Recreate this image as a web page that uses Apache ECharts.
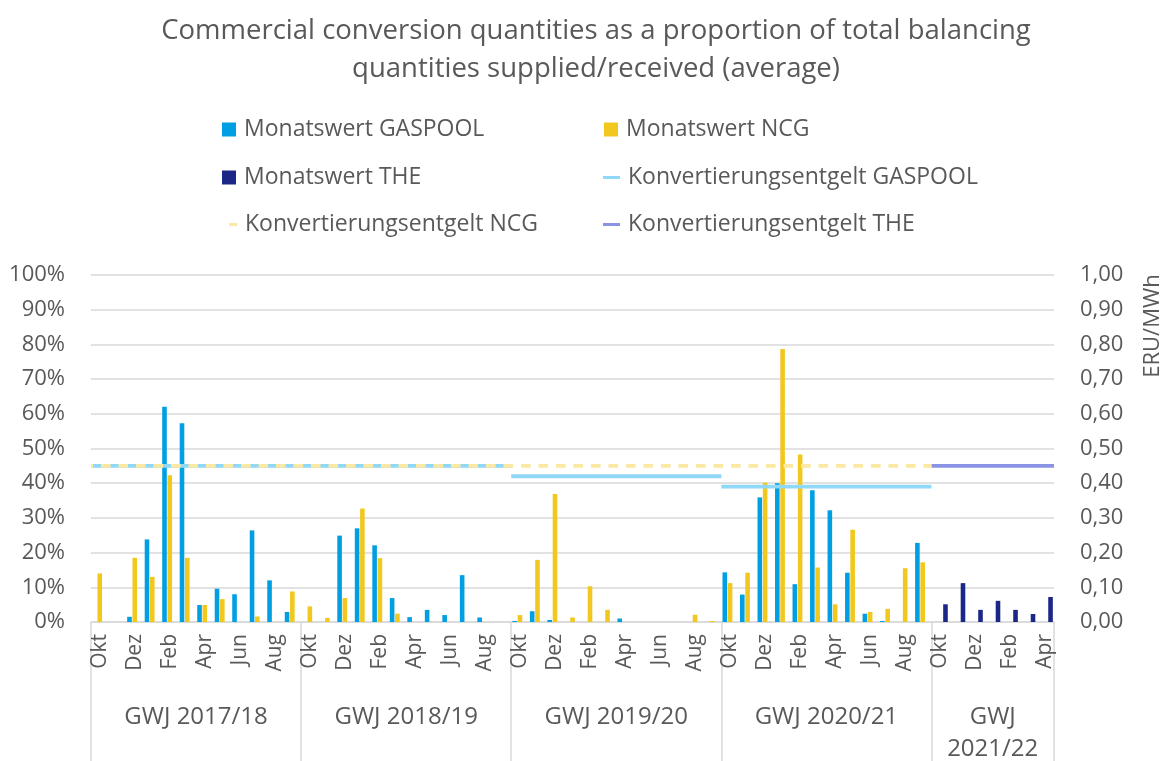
<!DOCTYPE html>
<html>
<head>
<meta charset="utf-8">
<script src="https://cdn.jsdelivr.net/npm/echarts@6/dist/echarts.min.js"></script>
<style>
  html, body { margin: 0; padding: 0; background: #fff; }
  #chart { width: 1167px; height: 761px; }
</style>
</head>
<body>
<div id="chart"></div>
<script>
// Gaswirtschaftsjahre und Monate
const years = ['GWJ 2017/18', 'GWJ 2018/19', 'GWJ 2019/20', 'GWJ 2020/21', 'GWJ\n2021/22'];
const monthNames = ['Okt', 'Nov', 'Dez', 'Jan', 'Feb', 'Mär', 'Apr', 'Mai', 'Jun', 'Jul', 'Aug', 'Sep'];
const monthsPerYear = [12, 12, 12, 12, 7];

// Monatswerte in % (Okt 2017 .. Apr 2022)
const gaspool = [
  0, 0, 1.5, 23.8, 62.0, 57.3, 4.9, 9.6, 8.0, 26.4, 12.0, 2.9,
  0, 0, 24.9, 27.0, 22.1, 6.9, 1.4, 3.5, 2.0, 13.5, 1.3, 0,
  0.3, 3.1, 0.6, 0, 0, 0, 1.0, 0, 0, 0, 0, 0,
  14.3, 7.9, 35.9, 40.0, 10.9, 38.0, 32.2, 14.2, 2.4, 0.3, 0, 22.8,
  null, null, null, null, null, null, null
];
const ncg = [
  14.0, 0, 18.5, 13.0, 42.3, 18.5, 4.9, 6.6, 0, 1.6, 0, 8.8,
  4.5, 1.2, 6.9, 32.7, 18.4, 2.4, 0, 0, 0, 0, 0, 0,
  2.0, 17.9, 36.9, 1.3, 10.3, 3.5, 0, 0, 0, 0, 2.1, 0.3,
  11.2, 14.2, 40.2, 78.7, 48.3, 15.7, 5.1, 26.6, 2.9, 3.8, 15.5, 17.2,
  null, null, null, null, null, null, null
];
const the = [
  null, null, null, null, null, null, null, null, null, null, null, null,
  null, null, null, null, null, null, null, null, null, null, null, null,
  null, null, null, null, null, null, null, null, null, null, null, null,
  null, null, null, null, null, null, null, null, null, null, null, null,
  5.1, 11.2, 3.5, 6.1, 3.5, 2.3, 7.2
];

// Konvertierungsentgelt je GWJ (ERU/MWh)
const feeGaspool = [0.45, 0.45, 0.42, 0.39, null];
const feeNcg = [0.45, 0.45, 0.45, 0.45, null];
const feeThe = [null, null, null, null, 0.45];

const font = 'Open Sans';
const textColor = '#595959';
const gridColor = '#D9D9D9';

// Kategorien aus Jahren und Monaten
const categories = [];
const bounds = [0];
const mids = [];
monthsPerYear.forEach((n, i) => {
  for (let m = 0; m < n; m++) categories.push(monthNames[m]);
  const start = bounds[bounds.length - 1];
  mids.push(start + n / 2);
  bounds.push(start + n);
});
const totalMonths = bounds[bounds.length - 1];

// Entgelt als Stufen über die ganze Jahresbreite
function feeLine(fees) {
  const pts = [];
  fees.forEach((f, i) => {
    if (f == null) return;
    const s = bounds[i], e = bounds[i + 1];
    if (pts.length && pts[pts.length - 1][1] !== f) pts.push([s, '-']);
    pts.push([s, f], [e, f]);
  });
  return pts;
}

const legendText = { fontFamily: font, fontSize: 23, color: textColor, padding: [0, 0, 0, 3] };
function legendItem(name, left, top, w, h) {
  return { data: [name], left: left, top: top, padding: 0, itemWidth: w, itemHeight: h, icon: 'rect',
           selectedMode: false, textStyle: legendText };
}

const chart = echarts.init(document.getElementById('chart'));
chart.setOption({
  animation: false,
  title: {
    text: 'Commercial conversion quantities as a proportion of total balancing\nquantities supplied/received (average)',
    left: 591, top: 7, textAlign: 'center',
    textStyle: { fontFamily: font, fontSize: 27.5, fontWeight: 'normal', color: textColor, lineHeight: 38 }
  },
  legend: [
    legendItem('Monatswert GASPOOL', 222, 118, 14, 14),
    legendItem('Monatswert NCG', 604, 118, 14, 14),
    legendItem('Monatswert THE', 222, 166, 14, 14),
    legendItem('Konvertierungsentgelt GASPOOL', 603, 166, 17, 3),
    legendItem('Konvertierungsentgelt NCG', 229, 213, 8, 3),
    legendItem('Konvertierungsentgelt THE', 603, 213, 17, 3)
  ],
  grid: { left: 91, right: 113, top: 275, bottom: 139, outerBoundsMode: 'none' },
  xAxis: [
    {
      type: 'category', data: categories, position: 'bottom',
      axisLine: { lineStyle: { color: gridColor, width: 1.5 } },
      axisTick: { show: false },
      axisLabel: { interval: 1, rotate: 90, margin: 12, fontFamily: font, fontSize: 21, color: textColor }
    },
    {
      type: 'value', min: 0, max: totalMonths, position: 'bottom',
      axisLine: { show: false },
      splitLine: { show: false },
      axisTick: { show: true, customValues: bounds, length: 139, lineStyle: { color: gridColor, width: 1.5 } },
      axisLabel: {
        customValues: mids, margin: 79, fontFamily: font, fontSize: 24, color: textColor, lineHeight: 32,
        formatter: v => years[mids.indexOf(v)]
      }
    }
  ],
  yAxis: [
    {
      type: 'value', min: 0, max: 100, interval: 10,
      axisLine: { show: false }, axisTick: { show: false },
      axisLabel: { formatter: '{value}%', margin: 26, fontFamily: font, fontSize: 22, color: textColor },
      splitLine: { lineStyle: { color: gridColor, width: 1.5 } }
    },
    {
      type: 'value', min: 0, max: 1, interval: 0.1, position: 'right',
      axisLine: { show: false }, axisTick: { show: false },
      axisLabel: { formatter: v => v.toFixed(2).replace('.', ','), margin: 26, fontFamily: font, fontSize: 22, color: textColor },
      splitLine: { show: false }
    }
  ],
  graphic: [{
    type: 'text', x: 1153, y: 326, rotation: Math.PI / 2,
    style: { text: 'ERU/MWh', fontFamily: font, fontSize: 22, fill: textColor, align: 'center', verticalAlign: 'middle' }
  }],
  series: [
    { name: 'Monatswert GASPOOL', type: 'bar', data: gaspool, barWidth: 4.6, barGap: '15%', itemStyle: { color: '#009FE3' } },
    { name: 'Monatswert NCG', type: 'bar', data: ncg, barWidth: 4.6, barGap: '15%', itemStyle: { color: '#F2C81F' } },
    { name: 'Monatswert THE', type: 'bar', data: the, barWidth: 4.6, barGap: '15%', itemStyle: { color: '#1B2787' } },
    {
      name: 'Konvertierungsentgelt GASPOOL', type: 'line', xAxisIndex: 1, yAxisIndex: 1,
      data: feeLine(feeGaspool), showSymbol: false, color: '#8FD8F7',
      lineStyle: { color: '#8FD8F7', width: 3.8, cap: 'butt' }, z: 3
    },
    {
      name: 'Konvertierungsentgelt NCG', type: 'line', xAxisIndex: 1, yAxisIndex: 1,
      data: feeLine(feeNcg), showSymbol: false, color: '#FBE8A3',
      lineStyle: { color: '#FBE8A3', width: 3.8, type: [9.6, 7.9], dashOffset: 7.5, cap: 'butt' }, z: 4
    },
    {
      name: 'Konvertierungsentgelt THE', type: 'line', xAxisIndex: 1, yAxisIndex: 1,
      data: feeLine(feeThe), showSymbol: false, color: '#8A93E4',
      lineStyle: { color: '#8A93E4', width: 3.8, cap: 'butt' }, z: 3
    }
  ]
});
</script>
</body>
</html>
